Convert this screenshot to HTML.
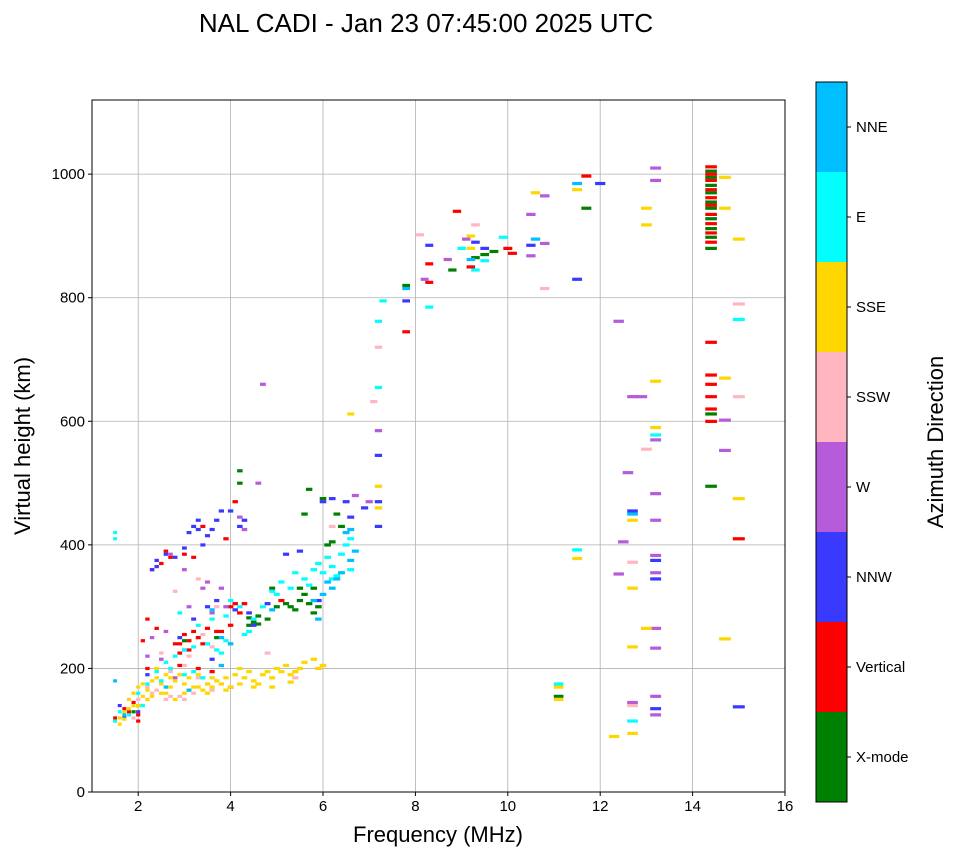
<!DOCTYPE html>
<html><head><meta charset="utf-8">
<style>
html,body{margin:0;padding:0;background:#fff;}
svg{display:block;font-family:"Liberation Sans","DejaVu Sans",sans-serif;}
</style></head>
<body>
<svg id="chart" width="958" height="857" viewBox="0 0 958 857" xmlns="http://www.w3.org/2000/svg">
<text x="426" y="32" text-anchor="middle" font-size="26" fill="#000">NAL CADI - Jan 23 07:45:00 2025 UTC</text>
<g id="grid"></g>
<g id="marks" clip-path="url(#clip)"></g>
<defs><clipPath id="clip"><rect x="92" y="100" width="693" height="692"/></clipPath></defs>
<rect x="92" y="100" width="693" height="692" fill="none" stroke="#000" stroke-width="1"/>
<g id="axes"></g>
<text x="438" y="842" text-anchor="middle" font-size="22">Frequency (MHz)</text>
<text transform="translate(30,446) rotate(-90)" text-anchor="middle" font-size="22">Virtual height (km)</text>
<g id="cbar"></g>
<text transform="translate(943,442) rotate(-90)" text-anchor="middle" font-size="22">Azimuth Direction</text>
</svg>
<script>
const xTicks = [2,4,6,8,10,12,14,16];
const yTicks = [0,200,400,600,800,1000];
const directions = ["X-mode","Vertical","NNW","W","SSW","SSE","E","NNE"];
const dirColors = ["#008000","#ff0000","#3a3aff","#b65bd9","#ffb6c1","#ffd700","#00ffff","#00bfff"];

const xmode = [[1.9,130],[2.0,140],[3.0,245],[3.7,250],[4.2,500],[4.2,520],[4.4,270],[4.5,275],[4.6,285],[4.8,280],[5.0,300],[5.2,305],[5.4,295],[5.5,310],[5.6,320],[5.8,330],[5.8,290],[5.9,300],[5.5,330],[5.6,450],[5.7,490],[6.0,475],[6.3,450],[6.4,430],[6.1,400],[6.2,405],[9.3,865],[8.8,845],[9.5,870],[9.7,875],[11.7,945],[11.1,155],[14.4,495],[14.4,612],[7.8,820],[4.9,330],[4.4,282],[4.6,272],[5.3,300],[5.7,305],
[14.4,1005],[14.4,995],[14.4,982],[14.4,970],[14.4,955],[14.4,945],[14.4,928],[14.4,912],[14.4,898],[14.4,880]];
const vertical = [[1.5,120],[1.7,135],[1.9,145],[2.0,125],[2.2,200],[2.1,245],[2.2,280],[2.3,360],[2.5,370],[2.8,240],[2.9,225],[3.0,255],[3.1,245],[3.2,260],[3.3,250],[3.5,265],[3.8,260],[4.0,270],[4.0,300],[4.1,470],[4.2,290],[4.3,305],[3.9,410],[3.2,380],[3.4,430],[2.6,390],[4.0,170],[3.6,195],[3.3,200],[2.9,205],[5.1,310],[7.8,745],[8.3,855],[8.3,825],[8.9,940],[9.2,850],[10.0,880],[10.1,872],[11.7,997],[14.4,728],[14.4,600],[14.4,620],[14.4,640],[14.4,660],[14.4,675],[15.0,410],[1.8,130],[2.0,115],[2.4,265],[2.9,240],[3.1,230],[3.4,240],[3.7,260],[4.1,305],[3.0,385],[2.7,380],
[14.4,1012],[14.4,1000],[14.4,990],[14.4,975],[14.4,962],[14.4,950],[14.4,935],[14.4,920],[14.4,905],[14.4,890]];
const nnw = [[2.3,360],[2.4,375],[2.6,385],[2.8,380],[3.0,395],[3.1,420],[3.2,430],[3.3,440],[3.4,400],[3.6,425],[3.7,440],[3.8,455],[4.0,455],[4.3,440],[2.9,250],[3.2,280],[3.5,300],[3.7,310],[4.1,295],[4.4,290],[3.6,215],[4.5,270],[5.2,385],[5.5,390],[6.0,470],[6.2,475],[6.5,470],[6.6,445],[6.9,460],[7.2,430],[7.2,470],[7.2,545],[7.8,795],[8.3,885],[9.3,890],[9.5,880],[10.5,885],[12.0,985],[11.5,830],[12.7,455],[13.2,375],[13.2,345],[13.2,135],[15.0,138],[1.6,140],[2.0,130],[2.2,190],[3.0,230],[4.8,305],[5.9,310],[1.7,120],[2.4,365],[3.3,425],[3.5,415],[4.2,430]];
const west = [[2.7,385],[3.0,360],[3.4,330],[3.5,340],[3.8,330],[4.2,445],[4.3,425],[4.6,500],[4.7,660],[3.6,290],[3.9,300],[2.6,260],[3.1,300],[2.3,250],[2.2,220],[2.5,215],[2.8,185],[6.7,480],[7.0,470],[7.2,585],[8.2,830],[8.7,862],[9.1,895],[10.5,935],[10.5,868],[10.8,965],[10.8,888],[12.4,762],[12.7,640],[12.9,640],[12.6,517],[12.5,405],[12.4,353],[13.2,1010],[13.2,990],[13.2,570],[13.2,483],[13.2,440],[13.2,383],[13.2,355],[13.2,265],[13.2,233],[13.2,155],[13.2,125],[12.7,145],[14.7,602],[14.7,553]];
const ssw = [[1.8,150],[2.3,160],[2.6,150],[2.9,155],[3.2,160],[3.5,175],[2.5,225],[2.7,195],[3.0,205],[3.3,185],[3.4,255],[3.6,235],[4.0,240],[3.1,220],[2.8,325],[3.3,345],[3.7,300],[4.8,225],[5.4,185],[6.2,430],[7.2,720],[7.1,632],[8.1,902],[9.3,918],[10.8,815],[12.7,372],[13.0,555],[15.0,790],[15.0,640],[12.7,140],[2.0,150],[1.9,120],[2.4,165],[2.7,155],[3.0,150],[3.6,165],[2.2,170]];
const sse = [[1.5,115],[1.6,120],[1.7,130],[1.8,150],[1.9,160],[2.0,170],[2.1,175],[2.2,165],[2.3,180],[2.4,185],[2.5,175],[2.6,160],[2.7,170],[2.8,180],[2.9,190],[3.0,175],[3.1,185],[3.2,170],[3.3,190],[3.4,165],[3.5,175],[3.6,170],[3.7,180],[3.8,175],[3.9,185],[4.0,170],[4.1,190],[4.2,200],[4.3,185],[4.4,195],[4.5,180],[4.6,175],[4.7,190],[4.8,195],[4.9,185],[5.0,200],[5.1,195],[5.2,205],[5.3,190],[5.4,195],[5.5,200],[5.6,210],[5.8,215],[5.9,200],[6.0,205],[2.4,200],[2.6,190],[3.0,160],[3.5,160],[2.2,150],[1.8,135],[2.8,150],[1.6,110],[1.7,118],[2.0,140],[2.1,155],[2.5,160],[2.7,185],[3.1,165],[3.3,170],[3.6,185],[3.9,165],[4.2,175],[4.5,170],[4.9,170],[5.3,178],[2.3,155],[1.9,140],
[6.6,612],[7.2,495],[7.2,460],[9.2,900],[9.2,880],[10.6,970],[11.5,975],[11.1,150],[11.1,170],[12.7,440],[12.7,330],[12.7,235],[12.7,95],[12.3,90],[13.0,265],[13.2,590],[13.2,665],[13.0,945],[13.0,918],[14.7,995],[14.7,945],[14.7,670],[15.0,895],[15.0,475],[14.7,248],[11.5,378]];
const east = [[1.5,115],[1.6,130],[1.8,125],[2.0,160],[2.2,175],[2.6,210],[2.8,220],[3.0,230],[3.2,235],[3.5,240],[3.7,230],[3.9,245],[3.3,270],[3.6,280],[3.9,285],[4.2,300],[4.4,260],[4.5,280],[4.7,300],[4.9,325],[5.1,340],[5.3,330],[5.4,355],[5.6,345],[5.8,360],[5.9,370],[6.0,355],[6.1,380],[6.2,365],[6.4,385],[6.5,400],[6.6,410],[6.3,350],[6.6,360],[3.4,185],[3.0,190],[2.5,180],[2.1,140],[7.2,655],[7.2,762],[7.3,795],[8.3,785],[9.0,880],[9.3,845],[9.5,860],[9.9,898],[11.5,392],[11.1,175],[12.7,115],[13.2,578],[15.0,765],[1.5,420],[1.5,410],[2.4,195],[2.9,290],[4.0,310],[3.2,195],[2.7,200],[3.8,225],[4.3,255],[5.0,320],[5.7,335],[6.2,345]];
const nne = [[6.1,340],[6.2,330],[6.3,345],[6.4,355],[6.6,375],[6.7,390],[6.0,320],[5.8,310],[6.5,420],[4.0,240],[3.8,205],[3.1,165],[2.6,170],[1.7,125],[3.6,295],[3.8,250],[4.9,295],[7.8,815],[9.2,862],[10.6,895],[11.5,985],[12.7,450],[6.6,425],[5.9,280],[1.5,180]];

const NS="http://www.w3.org/2000/svg";
const X0=92,X1=785,Y0=792,Y1=100,FMIN=1,FMAX=16,HMIN=0,HMAX=1120;
function xs(f){return X0+(f-FMIN)/(FMAX-FMIN)*(X1-X0);}
function ys(h){return Y0-(h-HMIN)/(HMAX-HMIN)*(Y0-Y1);}
function mk(tag,attrs,parent){const e=document.createElementNS(NS,tag);for(const k in attrs)e.setAttribute(k,attrs[k]);parent.appendChild(e);return e;}

const grid=document.getElementById('grid'),axes=document.getElementById('axes');
xTicks.forEach(t=>{
  const x=xs(t);
  const g=mk('line',{x1:x,x2:x,y1:Y1,y2:Y0,stroke:'#b0b0b0','stroke-width':0.8},grid);
  
  
  const tk=mk('line',{x1:x,x2:x,y1:Y0,y2:Y0+4,stroke:'#000'},axes);
  
  
  const lb=mk('text',{x:x,y:Y0+19,'text-anchor':'middle','font-size':15},axes);
  lb.textContent=t;
  
  
});
yTicks.forEach(t=>{
  const y=ys(t);
  const g=mk('line',{x1:X0,x2:X1,y1:y,y2:y,stroke:'#b0b0b0','stroke-width':0.8},grid);
  
  
  const tk=mk('line',{x1:X0-4,x2:X0,y1:y,y2:y,stroke:'#000'},axes);
  
  
  const lb=mk('text',{x:X0-7,y:y+5,'text-anchor':'end','font-size':15},axes);
  lb.textContent=t;
  
  
});

const marks=document.getElementById('marks');
const seriesList=[xmode,vertical,nnw,west,ssw,sse,east,nne];
const seriesNames=['xmode','vertical','nnw','w','ssw','sse','e','nne'];
seriesList.forEach((arr,d)=>{
  arr.forEach(p=>{
    const w=3+0.6*p[0];
    const r=mk('rect',{x:xs(p[0])-w/2,y:ys(p[1])-1.5,width:w,height:3.2,fill:dirColors[d]},marks);
    
    
  });
});

const cb=document.getElementById('cbar');
const CX=816,CW=31,CT=82,CB=802,seg=(CB-CT)/directions.length;
directions.forEach((name,i)=>{
  const y=CB-(i+1)*seg;
  const r=mk('rect',{x:CX,y:y,width:CW,height:seg,fill:dirColors[i]},cb);
  
  
  const tk=mk('line',{x1:CX+CW,x2:CX+CW+4,y1:y+seg/2,y2:y+seg/2,stroke:'#000'},cb);
  
  
  const lb=mk('text',{x:CX+CW+9,y:y+seg/2+5,'font-size':15},cb);
  lb.textContent=name;
  
  
});
const fr=mk('rect',{x:CX,y:CT,width:CW,height:CB-CT,fill:'none',stroke:'#000','stroke-width':1},cb);


</script>
</body></html>
